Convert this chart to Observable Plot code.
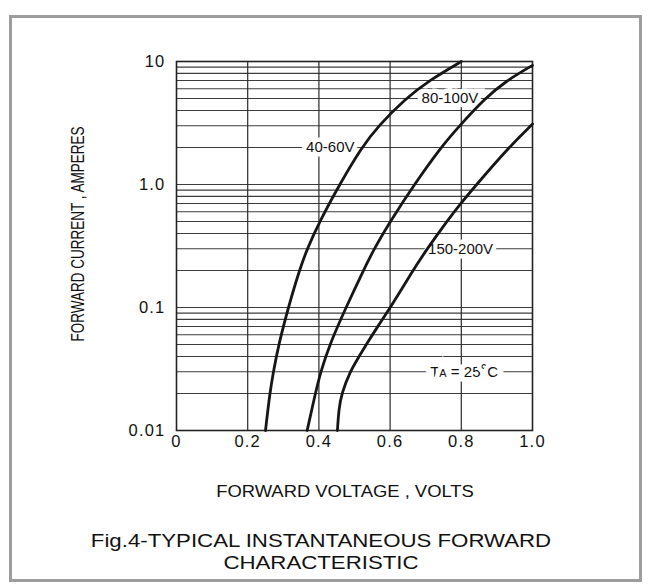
<!DOCTYPE html>
<html>
<head>
<meta charset="utf-8">
<script src="https://cdn.jsdelivr.net/npm/d3@7"></script>
<script src="https://cdn.jsdelivr.net/npm/@observablehq/plot@0.6"></script>
<style>
  html, body { margin: 0; padding: 0; background: #fff; }
  body { width: 650px; height: 584px; position: relative; overflow: hidden;
         font-family: "Liberation Sans", Arial, Helvetica, sans-serif; color: #111; }
  #chart { position: absolute; left: 0; top: 0; }
  #frame { position: absolute; left: 9px; top: 15px; width: 627px; height: 561px;
           border: 3px solid #9d9d9d; pointer-events: none; }
  .t { position: absolute; white-space: nowrap; transform-origin: center center; }
  #xtitle { left: 345px; top: 492px; font-size: 16px; transform: translate(-50%, -50%) scaleX(1.15); }
  #ytitle { left: 78px; top: 234px; font-size: 13.5px; transform: translate(-50%, -50%) rotate(-90deg) scale(1, 1.3); }
  #caption { left: 321px; top: 552px; font-size: 19px; line-height: 22px; text-align: center;
             transform: translate(-50%, -50%) scaleX(1.17); }
  #chart svg [aria-label="x-axis tick label"] text,
  #chart svg [aria-label="y-axis tick label"] text { letter-spacing: 1.2px; }
</style>
</head>
<body>
<div id="chart"></div>
<div id="xtitle" class="t">FORWARD VOLTAGE , VOLTS</div>
<div id="ytitle" class="t">FORWARD CURRENT , AMPERES</div>
<div id="caption" class="t">Fig.4-TYPICAL INSTANTANEOUS FORWARD<br>CHARACTERISTIC</div>
<div id="frame"></div>
<script>
// ---- data ----
const seriesNames = ["40-60V", "80-100V", "150-200V"];

const volts40 = [0.250, 0.262, 0.272, 0.287, 0.314, 0.345, 0.367, 0.402, 0.458, 0.520, 0.567, 0.644, 0.709, 0.800];
const amps40  = [0.01,  0.02,  0.03,  0.05,  0.1,   0.2,   0.3,   0.5,   1,     2,     3,     5,     7,     10];

const volts80 = [0.367, 0.390, 0.405, 0.430, 0.476, 0.525, 0.555, 0.600, 0.668, 0.742, 0.795, 0.866, 0.927, 1.000];
const amps80  = [0.01,  0.02,  0.03,  0.05,  0.1,   0.2,   0.3,   0.5,   1,     2,     3,     5,     7,     9.3];

const volts150 = [0.452, 0.456, 0.464, 0.487, 0.513, 0.533, 0.565, 0.601, 0.664, 0.704, 0.759, 0.798, 0.843, 0.933, 1.000];
const amps150  = [0.01,  0.015, 0.02,  0.03,  0.04,  0.05,  0.07,  0.1,   0.2,   0.3,   0.5,   0.7,   1,     2,     3.1];

const xTicks = [0, 0.2, 0.4, 0.6, 0.8, 1.0];
const xTickLabels = ["0", "0.2", "0.4", "0.6", "0.8", "1.0"];
const yTicks = [0.01, 0.1, 1, 10];
const yTickLabels = ["0.01", "0.1", "1.0", "10"];

const xGrid = [0.2, 0.4, 0.6, 0.8];
const yGrid = [0.02, 0.03, 0.04, 0.05, 0.06, 0.07, 0.08, 0.09, 0.1,
               0.2, 0.3, 0.4, 0.5, 0.6, 0.7, 0.8, 0.9, 1,
               2, 3, 4, 5, 6, 7, 8, 9];

const labelTexts = ["40-60V", "80-100V", "150-200V", "TA = 25°C"];
const labelVolts = [0.432, 0.768, 0.798, 0.808];
const labelAmps  = [2, 5, 0.3, 0.03];

// ---- tables built from the arrays ----
const voltSets = [volts40, volts80, volts150];
const ampSets = [amps40, amps80, amps150];
const curves = seriesNames.flatMap((s, k) => voltSets[k].map((v, i) => ({series: s, v, a: ampSets[k][i]})));
const labels = labelTexts.map((t, i) => ({t, v: labelVolts[i], a: labelAmps[i]}));
const xFmt = new Map(xTicks.map((d, i) => [d, xTickLabels[i]]));
const yFmt = new Map(yTicks.map((d, i) => [d, yTickLabels[i]]));

const chart = Plot.plot({
  width: 650,
  height: 500,
  marginLeft: 176,
  marginRight: 118,
  marginTop: 61,
  marginBottom: 70,
  style: {fontFamily: "'Liberation Sans', Arial, Helvetica, sans-serif", color: "#111", background: "none", overflow: "visible"},
  x: {domain: [0, 1]},
  y: {type: "log", domain: [0.01, 10]},
  marks: [
    Plot.ruleY(yGrid, {stroke: "#3c3c3c", strokeWidth: 1.1}),
    Plot.ruleX(xGrid, {stroke: "#2a2a2a", strokeWidth: 1.2}),
    Plot.frame({stroke: "#222", strokeWidth: 1.6}),
    Plot.text(labels, {x: "v", y: "a", text: "t", fontSize: 15, fill: "#111",
                       stroke: "white", strokeWidth: 9, strokeLinejoin: "miter"}),
    Plot.line(curves, {x: "v", y: "a", z: "series", stroke: "#161616", strokeWidth: 2.8, curve: "basis"}),
    Plot.axisX({ticks: xTicks, tickSize: 0, tickPadding: 5, fontSize: 16.5, label: null,
                tickFormat: d => xFmt.get(d)}),
    Plot.axisY({ticks: yTicks, tickSize: 0, tickPadding: 11, fontSize: 16.5, label: null,
                tickFormat: d => yFmt.get(d)})
  ]
});

document.getElementById("chart").appendChild(chart);

// subscript "A" and raised degree sign in the temperature note
d3.select(chart).selectAll("text").each(function () {
  if (this.textContent === "TA = 25°C") {
    const t = d3.select(this);
    t.text(null);
    t.append("tspan").text("T");
    t.append("tspan").attr("font-size", "11").text("A");
    t.append("tspan").text(" = 25");
    t.append("tspan").attr("font-size", "17").attr("dy", "-1").text("°");
    t.append("tspan").attr("dy", "1").text("C");
  }
});
</script>
</body>
</html>
